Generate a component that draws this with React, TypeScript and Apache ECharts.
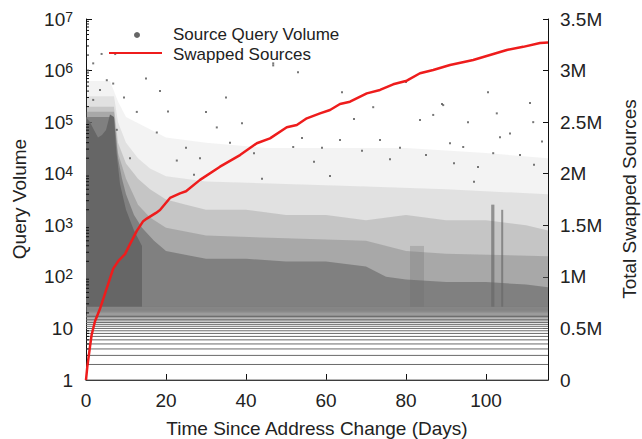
import React, { useEffect, useRef } from "react";
import * as echarts from "echarts";

// ---- Data ----
// Red line: cumulative swapped sources (right axis)
const swapDays = [0, 0.33, 1, 1.4, 2.25, 3.5, 5.2, 6.8, 8.1, 9.75, 11, 12.7, 14.3, 15.2, 17.5, 18.5, 21, 23.5, 25, 28.5, 33.5, 38.5, 42.7, 46, 50.2, 52.7, 55.2, 58.5, 61, 63.5, 66, 70.2, 73.5, 76.8, 80.2, 83.5, 86.8, 91, 96.8, 105.2, 109.3, 113.5, 115.5];
const swapTotals = [0, 130000, 323000, 436000, 570000, 690000, 890000, 1080000, 1155000, 1220000, 1317000, 1446000, 1540000, 1565000, 1620000, 1648000, 1765000, 1810000, 1830000, 1940000, 2068000, 2181000, 2295000, 2343000, 2450000, 2472000, 2537000, 2585000, 2618000, 2676000, 2698000, 2779000, 2812000, 2867000, 2902000, 2974000, 3005000, 3054000, 3102000, 3200000, 3230000, 3268000, 3272000];

// Query volume cloud, summarised as density bands: top edge (log10 of query volume) by day
const sparseDays = [0, 3, 6, 8, 10, 15, 20, 30, 45, 60, 80, 100, 115.5];
const sparseTop = [5.8, 5.8, 5.8, 5.4, 5.1, 4.9, 4.7, 4.6, 4.5, 4.5, 4.5, 4.4, 4.3];
const lightDays = [0, 7, 8, 10, 13, 16, 20, 30, 50, 70, 90, 115.5];
const lightTop = [5.5, 5.5, 5.0, 4.6, 4.3, 4.1, 3.95, 3.85, 3.8, 3.75, 3.7, 3.6];
const mediumDays = [0, 7, 8, 10, 13, 16, 20, 25, 30, 40, 50, 60, 70, 80, 90, 100, 110, 115.5];
const mediumTop = [5.3, 5.3, 4.6, 4.2, 3.9, 3.7, 3.5, 3.4, 3.3, 3.3, 3.2, 3.2, 3.1, 3.2, 3.1, 3.1, 3.0, 2.9];
const thickDays = [0, 7, 8, 10, 13, 16, 20, 30, 50, 70, 80, 90, 115.5];
const thickTop = [5.2, 5.2, 4.4, 3.9, 3.4, 3.15, 2.95, 2.8, 2.75, 2.7, 2.5, 2.45, 2.4];
const denseDays = [0, 7, 8, 9, 10, 12, 14, 17, 20, 30, 40, 50, 60, 70, 75, 80, 90, 100, 110, 115.5];
const denseTop = [5.1, 5.1, 4.3, 3.9, 3.6, 3.2, 2.95, 2.7, 2.5, 2.35, 2.35, 2.3, 2.3, 2.2, 2.0, 1.95, 1.9, 1.9, 1.85, 1.8];
const coreDays = [0, 1, 2, 3, 4, 5, 6, 7, 7.5, 8.5, 10, 12, 14];
const coreTop = [5.1, 5.0, 4.85, 4.7, 4.75, 4.85, 5.15, 5.1, 4.5, 3.8, 3.3, 2.9, 2.6];
const bandBottom = 1.42; // log10 of the volume where the discrete integer rows end
// narrow denser columns: [startDay, endDay, top log10 volume]
const spikes = [[81, 84.5, 2.6], [101.3, 102.1, 3.4], [103.8, 104.3, 3.3]];
// discrete integer query volumes, drawn as rows across all days
const levels = [1, 2, 3, 4, 5, 6, 7, 8, 9, 10, 11, 12, 13, 14, 15, 16, 17, 18, 19, 20, 21, 22, 23, 24, 25, 26];
// isolated high-volume sources: [day, query volume]
const outliers = [
  [0.5, 1000000], [1.8, 1380000], [3.9, 2100000], [7.3, 2090000], [5.2, 650000], [6.8, 560000], [3.5, 420000], [1.8, 270000],
  [12.7, 158000], [18.5, 400000], [17.7, 63000], [30, 158000], [25, 32000], [32.7, 79000], [11, 20000], [22.7, 18000],
  [28.5, 20000], [7.7, 71000], [53, 930000], [64, 380000], [71.8, 195000], [67, 115000], [89, 224000], [86.8, 138000],
  [83.5, 110000], [54, 49000], [63.5, 45000], [73.5, 45000], [51.8, 33000], [59, 32000], [46.8, 1260000], [39, 95000],
  [78.5, 32000], [85, 23000], [100.5, 380000], [95.5, 100000], [103.5, 51000], [89.3, 214000], [102.7, 148000],
  [111.8, 100000], [94.3, 33000], [108.5, 23000], [101.8, 25000], [91, 39000], [98, 13500], [111, 234000], [46.8, 1380000],
  [36, 40000], [42, 25000], [57, 17000], [69, 28000], [76, 19000], [92, 16000], [106, 60000], [114, 42000], [20.5, 160000],
  [15, 700000], [9.5, 300000], [44, 8000], [61, 9000], [97, 7000], [27, 9500], [35, 300000], [80, 600000], [112, 15000]
];
const xTicks = [0, 20, 40, 60, 80, 100];
const minorMultipliers = [2, 3, 4, 5, 6, 7, 8, 9];
const decades = [1, 10, 100, 1000, 10000, 100000, 1000000];

const FONT = "Liberation Sans, Arial, Helvetica, sans-serif";
const TXT = "#222";
const GRAY = "#666666";
const XMAX = 115.5;

function bandPolygon(api: any, days: number[], tops: number[], bottom: number) {
  const pts: number[][] = [];
  for (let i = 0; i < days.length; i++) pts.push(api.coord([days[i], Math.pow(10, tops[i])]));
  for (let i = days.length - 1; i >= 0; i--) pts.push(api.coord([days[i], Math.pow(10, bottom)]));
  return pts;
}

export default function App() {
  const ref = useRef<HTMLDivElement>(null);
  useEffect(() => {
    if (!ref.current) return;
    const chart = echarts.init(ref.current, null, { renderer: "svg" });

    const cloudSeries = {
      type: "custom",
      coordinateSystem: "cartesian2d",
      xAxisIndex: 0,
      yAxisIndex: 0,
      silent: true,
      clip: true,
      z: 1,
      data: [[0, 1]],
      renderItem: (_p: any, api: any) => {
        const children: any[] = [];
        const layers = [
          { d: sparseDays, t: sparseTop, o: 0.08 },
          { d: lightDays, t: lightTop, o: 0.12 },
          { d: mediumDays, t: mediumTop, o: 0.22 },
          { d: thickDays, t: thickTop, o: 0.3 },
          { d: denseDays, t: denseTop, o: 0.6 },
          { d: coreDays, t: coreTop, o: 1 },
        ];
        layers.forEach((l) => {
          children.push({
            type: "polygon",
            shape: { points: bandPolygon(api, l.d, l.t, bandBottom) },
            style: { fill: GRAY, opacity: l.o },
          });
        });
        spikes.forEach((s, i) => {
          children.push({
            type: "polygon",
            shape: { points: bandPolygon(api, [s[0], s[1]], [s[2], s[2]], bandBottom) },
            style: { fill: GRAY, opacity: i === 0 ? 0.25 : 0.65 },
          });
        });
        return { type: "group", children };
      },
    };

    const levelSeries = {
      type: "custom",
      coordinateSystem: "cartesian2d",
      xAxisIndex: 0,
      yAxisIndex: 0,
      silent: true,
      z: 2,
      data: levels.map((v) => [0, v]),
      renderItem: (_p: any, api: any) => {
        const v = api.value(1);
        const a = api.coord([0, v]);
        const b = api.coord([XMAX, v]);
        return {
          type: "line",
          shape: { x1: a[0], y1: a[1], x2: b[0], y2: b[1] },
          style: { stroke: "#6a6a6a", lineWidth: 1 },
        };
      },
    };

    const minorTickSeries = {
      type: "custom",
      coordinateSystem: "cartesian2d",
      xAxisIndex: 0,
      yAxisIndex: 0,
      silent: true,
      z: 5,
      data: [[0, 1]],
      renderItem: (_p: any, api: any) => {
        const children: any[] = [];
        decades.forEach((d) => {
          minorMultipliers.forEach((m) => {
            const c = api.coord([0, d * m]);
            children.push({
              type: "line",
              shape: { x1: c[0], y1: c[1], x2: c[0] + 3, y2: c[1] },
              style: { stroke: "#111", lineWidth: 1 },
            });
          });
        });
        return { type: "group", children };
      },
    };

    const option: any = {
      animation: false,
      textStyle: { fontFamily: FONT },
      grid: { left: 86, right: 94, top: 19, bottom: 59, containLabel: false },
      xAxis: {
        type: "value",
        min: 0,
        max: XMAX,
        interval: 20,
        splitLine: { show: false },
        axisLine: { lineStyle: { color: "#111", width: 1 } },
        axisTick: { inside: true, length: 6, lineStyle: { color: "#111" } },
        axisLabel: {
          color: TXT,
          fontSize: 19,
          fontFamily: FONT,
          margin: 11,
          formatter: (v: number) => (xTicks.indexOf(v) >= 0 ? String(v) : ""),
        },
      },
      yAxis: [
        {
          type: "log",
          logBase: 10,
          min: 1,
          max: 10000000,
          splitNumber: 7,
          splitLine: { show: false },
          axisLine: { show: true, lineStyle: { color: "#111", width: 1 } },
          axisTick: { show: true, inside: true, length: 6, lineStyle: { color: "#111" } },
          axisLabel: {
            color: TXT,
            fontFamily: FONT,
            fontSize: 19,
            margin: 13,
            formatter: (v: number) => {
              const e = Math.round(Math.log10(v));
              if (e === 0) return "{n|1}";
              if (e === 1) return "{n|10}";
              return "{b|10}{sup|" + e + "}";
            },
            rich: {
              n: { fontSize: 19, fontFamily: FONT, color: TXT },
              b: { fontSize: 19, fontFamily: FONT, color: TXT, lineHeight: 19, padding: [3, 0, 0, 0], verticalAlign: "bottom" },
              sup: { fontSize: 14, fontFamily: FONT, color: TXT, lineHeight: 14, verticalAlign: "top" },
            },
          },
        },
        {
          type: "value",
          min: 0,
          max: 3500000,
          interval: 500000,
          position: "right",
          splitLine: { show: false },
          axisLine: { show: true, lineStyle: { color: "#111", width: 1 } },
          axisTick: { show: true, inside: true, length: 5, lineStyle: { color: "#111" } },
          axisLabel: {
            color: TXT,
            fontFamily: FONT,
            fontSize: 19,
            margin: 12,
            formatter: (v: number) => (v === 0 ? "0" : v / 1000000 + "M"),
          },
        },
      ],
      series: [
        cloudSeries,
        levelSeries,
        {
          type: "scatter",
          name: "Source Query Volume",
          xAxisIndex: 0,
          yAxisIndex: 0,
          symbol: "rect",
          symbolSize: 2,
          itemStyle: { color: "#555" },
          silent: true,
          z: 3,
          data: outliers,
        },
        minorTickSeries,
        {
          type: "line",
          name: "Swapped Sources",
          xAxisIndex: 0,
          yAxisIndex: 1,
          showSymbol: false,
          symbol: "none",
          smooth: false,
          z: 6,
          lineStyle: { color: "#ee1c1c", width: 2.5 },
          data: swapDays.map((d, i) => [d, swapTotals[i]]),
        },
      ],
      graphic: [
        { type: "circle", shape: { cx: 137, cy: 35, r: 3 }, style: { fill: GRAY }, z: 10 },
        { type: "line", shape: { x1: 109, y1: 53, x2: 162, y2: 53 }, style: { stroke: "#ee1c1c", lineWidth: 2 }, z: 10 },
        { type: "text", x: 173, y: 34, z: 10, style: { text: "Source Query Volume", fill: TXT, fontSize: 17, lineHeight: 17, fontFamily: FONT, align: "left", verticalAlign: "middle" } },
        { type: "text", x: 173, y: 54, z: 10, style: { text: "Swapped Sources", fill: TXT, fontSize: 17, lineHeight: 17, fontFamily: FONT, align: "left", verticalAlign: "middle" } },
        { type: "text", x: 317, y: 428, style: { text: "Time Since Address Change (Days)", fill: TXT, fontSize: 19, fontFamily: FONT, align: "center", verticalAlign: "middle" } },
        { type: "text", x: 19, y: 199, rotation: Math.PI / 2, style: { text: "Query Volume", fill: TXT, fontSize: 19, fontFamily: FONT, align: "center", verticalAlign: "middle" } },
        { type: "text", x: 629, y: 199, rotation: Math.PI / 2, style: { text: "Total Swapped Sources", fill: TXT, fontSize: 19, fontFamily: FONT, align: "center", verticalAlign: "middle" } },
      ],
    };
    chart.setOption(option);
    return () => chart.dispose();
  }, []);
  return <div ref={ref} style={{ position: "fixed", left: 0, top: 0, width: 642, height: 439, background: "#fff" }} />;
}
